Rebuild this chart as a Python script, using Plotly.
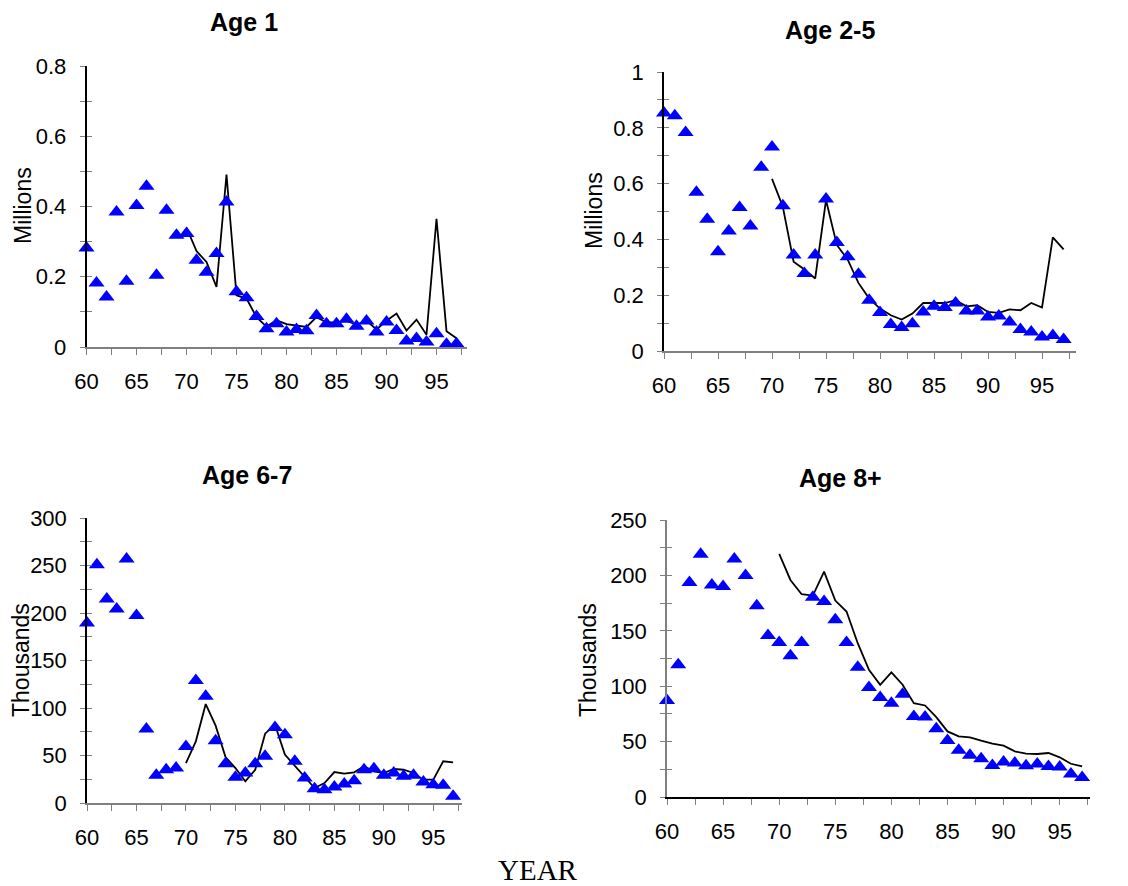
import plotly.graph_objects as go

# ---------------- data ----------------
years = list(range(60, 98))
line_years = list(range(70, 98))

age1_obs = [0.282, 0.182, 0.142, 0.384, 0.187, 0.403, 0.458, 0.204, 0.389, 0.318,
            0.323, 0.247, 0.213, 0.266, 0.413, 0.157, 0.140, 0.087, 0.052, 0.066,
            0.043, 0.050, 0.046, 0.090, 0.066, 0.066, 0.079, 0.059, 0.074, 0.043,
            0.071, 0.047, 0.017, 0.024, 0.014, 0.038, 0.008, 0.009]
age1_model = [0.340, 0.273, 0.242, 0.171, 0.491, 0.147, 0.138, 0.085, 0.058, 0.076,
              0.065, 0.060, 0.057, 0.085, 0.070, 0.070, 0.075, 0.063, 0.075, 0.050,
              0.075, 0.095, 0.047, 0.078, 0.035, 0.365, 0.045, 0.025]

age25_obs = [0.853, 0.843, 0.783, 0.569, 0.472, 0.356, 0.430, 0.514, 0.448, 0.659,
             0.731, 0.521, 0.344, 0.278, 0.344, 0.545, 0.389, 0.338, 0.275, 0.182,
             0.138, 0.095, 0.084, 0.098, 0.140, 0.160, 0.156, 0.172, 0.143, 0.143,
             0.122, 0.125, 0.104, 0.077, 0.068, 0.050, 0.056, 0.041]
age25_model = [0.617, 0.517, 0.320, 0.292, 0.260, 0.541, 0.380, 0.328, 0.244, 0.188,
               0.152, 0.128, 0.113, 0.134, 0.172, 0.172, 0.172, 0.182, 0.160, 0.164,
               0.140, 0.137, 0.149, 0.146, 0.172, 0.156, 0.407, 0.364]

age67_obs = [189.5, 250.9, 214.7, 204.2, 256.8, 197.5, 77.9, 29.1, 35.0, 36.8,
             59.6, 129.0, 112.3, 65.6, 41.4, 27.0, 31.6, 41.4, 49.1, 79.6,
             71.9, 43.9, 26.3, 15.1, 14.0, 16.8, 20.0, 23.5, 35.0, 36.1,
             29.1, 31.6, 28.1, 29.1, 22.1, 19.3, 18.6, 7.0]
age67_model = [42.1, 64.9, 104.2, 81.4, 48.4, 36.8, 22.8, 35.0, 73.0, 82.5,
               50.9, 39.3, 28.1, 15.8, 21.0, 32.6, 30.9, 32.3, 38.6, 33.3,
               31.6, 35.8, 35.0, 31.6, 24.6, 24.6, 43.9, 42.8]

age8_obs = [87.1, 119.3, 193.5, 219.0, 191.4, 189.9, 214.8, 199.8, 172.5, 145.7,
            139.4, 127.4, 139.4, 180.3, 176.4, 159.9, 139.4, 117.2, 98.9, 89.8,
            84.7, 92.8, 72.7, 72.1, 61.6, 51.1, 42.1, 37.6, 34.6, 28.5,
            31.6, 30.6, 28.2, 29.7, 27.6, 27.0, 20.7, 17.7]
age8_model = [219.4, 195.9, 183.0, 181.8, 203.4, 177.3, 167.4, 138.8, 114.8, 101.3,
              112.4, 101.3, 84.7, 82.6, 72.1, 59.2, 54.7, 53.8, 50.8, 48.1,
              46.3, 41.2, 39.1, 38.8, 39.7, 35.8, 30.0, 27.6]

titles = ["Age 1", "Age 2-5", "Age 6-7", "Age 8+"]
units = ["Millions", "Millions", "Thousands", "Thousands"]
x_ticks = [60, 65, 70, 75, 80, 85, 90, 95]

# ---------------- layout geometry ----------------
# the page body adds an 8px offset, so the figure is drawn 8px in from the window edge
OFF = 8
W, H = 1128 - OFF, 886 - OFF


def fx(px):
    return (px - OFF) / W


def fy(py):
    return 1 - (py - OFF) / H


panels = [
    dict(obs=age1_obs, mod=age1_model, px=(86.5, 466.5), py=(347, 66), xr=[60, 98.0],
         yr=[0, 0.8], dy=0.2, mdy=0.1, ycol="black", xcol="#808080",
         title_xy=(244, 22), ylab_xy=(23, 206)),
    dict(obs=age25_obs, mod=age25_model, px=(664, 1075.5), py=(351, 72), xr=[60, 98.1],
         yr=[0, 1.0], dy=0.2, mdy=0.1, ycol="black", xcol="#808080",
         title_xy=(830, 30), ylab_xy=(594, 211)),
    dict(obs=age67_obs, mod=age67_model, px=(87, 462), py=(803, 518), xr=[60, 97.9],
         yr=[0, 300], dy=50, mdy=25, ycol="black", xcol="#808080",
         title_xy=(247, 475), ylab_xy=(21, 660)),
    dict(obs=age8_obs, mod=age8_model, px=(667, 1090), py=(797, 520), xr=[60, 97.7],
         yr=[0, 250], dy=50, mdy=25, ycol="#808080", xcol="black",
         title_xy=(840, 478), ylab_xy=(588, 660)),
]

fig = go.Figure()
tickfont = dict(family="Liberation Sans, Arial, sans-serif", size=22, color="black")
gray = "#808080"
layout = dict(
    width=W, height=H, margin=dict(l=0, r=0, t=0, b=0, autoexpand=False),
    paper_bgcolor="white", plot_bgcolor="white", showlegend=False,
)
annotations = []

for i, p in enumerate(panels):
    n = i + 1
    xa = "x" if n == 1 else f"x{n}"
    ya = "y" if n == 1 else f"y{n}"
    yo = f"y{n + 4}"
    xdom = [fx(p["px"][0]), fx(p["px"][1])]
    ydom = [fy(p["py"][0]), fy(p["py"][1])]

    fig.add_trace(go.Scatter(x=line_years, y=p["mod"], mode="lines",
                             line=dict(color="black", width=1.8),
                             xaxis=xa, yaxis=ya, cliponaxis=False, hoverinfo="skip"))
    fig.add_trace(go.Scatter(x=years, y=p["obs"], mode="markers",
                             marker=dict(symbol="triangle-up", size=14, color="#0000FF",
                                         line=dict(width=0)),
                             xaxis=xa, yaxis=ya, cliponaxis=False))
    # invisible trace that activates an overlay axis (inner half of crossing ticks)
    fig.add_trace(go.Scatter(x=[p["xr"][0]], y=[p["yr"][0]], mode="markers",
                             marker=dict(opacity=0), xaxis=xa, yaxis=yo,
                             showlegend=False, hoverinfo="skip"))

    layout["xaxis" if n == 1 else f"xaxis{n}"] = dict(
        domain=xdom, range=p["xr"], anchor=ya, automargin=False,
        tickmode="array", tickvals=x_ticks, ticktext=[str(t) for t in x_ticks],
        ticks="outside", ticklen=6, tickcolor=gray, tickwidth=1,
        minor=dict(dtick=2.5, tick0=60, ticks="outside", ticklen=6, tickcolor=gray, tickwidth=1),
        showline=True, linecolor=p["xcol"], linewidth=1.5,
        showgrid=False, zeroline=False, tickfont=tickfont, ticklabelstandoff=8,
    )
    layout["yaxis" if n == 1 else f"yaxis{n}"] = dict(
        domain=ydom, range=p["yr"], anchor=xa, automargin=False,
        dtick=p["dy"], tick0=0,
        ticks="outside", ticklen=5, tickcolor=gray, tickwidth=1,
        minor=dict(dtick=p["mdy"], ticks="outside", ticklen=5, tickcolor=gray, tickwidth=1),
        showline=True, linecolor=p["ycol"], linewidth=1.5,
        showgrid=False, zeroline=False, tickfont=tickfont, ticklabelstandoff=9,
    )
    layout[f"yaxis{n + 4}"] = dict(
        overlaying=ya, anchor=xa, side="left", range=p["yr"], automargin=False,
        dtick=p["dy"], tick0=0,
        ticks="inside", ticklen=5, tickcolor=gray, tickwidth=1,
        minor=dict(dtick=p["mdy"], ticks="inside", ticklen=5, tickcolor=gray, tickwidth=1),
        showline=False, showgrid=False, zeroline=False, showticklabels=False,
    )

    tx, ty = p["title_xy"]
    annotations.append(dict(text=f"<b>{titles[i]}</b>", x=fx(tx), y=fy(ty),
                            xref="paper", yref="paper", showarrow=False,
                            xanchor="center", yanchor="middle",
                            font=dict(family="Liberation Sans, Arial, sans-serif",
                                      size=25, color="black")))
    lx, ly = p["ylab_xy"]
    annotations.append(dict(text=units[i], x=fx(lx), y=fy(ly),
                            xref="paper", yref="paper", showarrow=False, textangle=-90,
                            xanchor="center", yanchor="middle",
                            font=dict(family="Liberation Sans, Arial, sans-serif",
                                      size=23, color="black")))

annotations.append(dict(text="YEAR", x=fx(538), y=fy(870), xref="paper", yref="paper",
                        showarrow=False, xanchor="center", yanchor="middle",
                        font=dict(family="Liberation Serif, Times New Roman, serif",
                                  size=29, color="black")))
layout["annotations"] = annotations
fig.update_layout(**layout)

fig.write_html("out.html")
